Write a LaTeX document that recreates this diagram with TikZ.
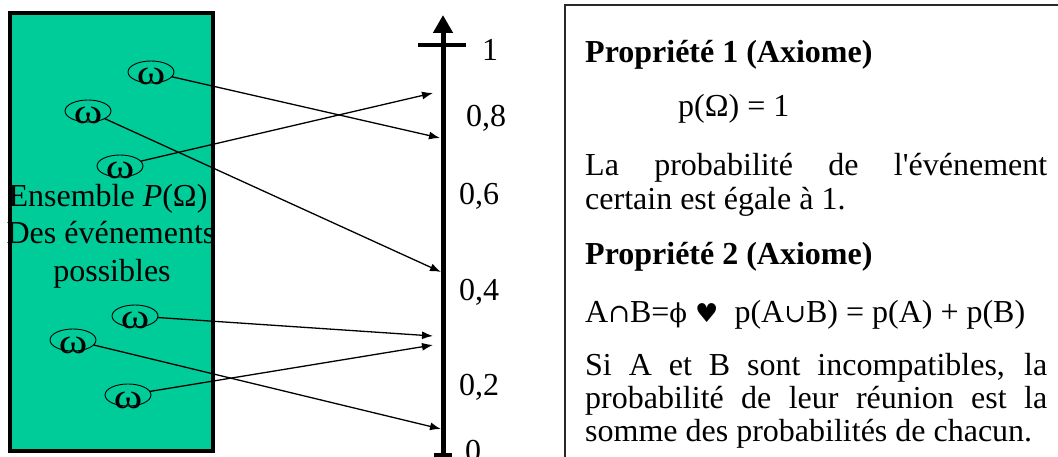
\documentclass[tikz,border=0pt]{standalone}
\usepackage{fontspec}
\setmainfont{Liberation Serif}
\newfontfamily\plainser{Liberation Serif}
\newfontfamily\djsans{DejaVu Sans}
\newfontfamily\djserif{DejaVu Serif}
\usetikzlibrary{shapes.geometric,arrows.meta}
\definecolor{boxgreen}{RGB}{0,204,153}
\definecolor{frame}{RGB}{40,40,40}
\begin{document}
\begin{tikzpicture}[x=1pt,y=-1pt,
  font=\fontsize{32}{38}\selectfont,
  setbox/.style={draw, fill=boxgreen, line width=4pt, minimum width=203pt, minimum height=438pt, inner sep=0pt, outer sep=0pt},
  omega/.style={ellipse, draw, line width=0.9pt, minimum width=46pt, minimum height=22pt, inner sep=0pt, outer sep=0pt},
  conn/.style={line width=1.3pt, -{Latex[length=11pt,width=8pt]}},
  txt/.style={anchor=base west, inner sep=0pt},
  ctxt/.style={anchor=base, inner sep=0pt},
  tick/.style={line width=4pt}
]
\useasboundingbox (0,0) rectangle (1058,457);
\clip (0,0) rectangle (1058,457);

% set box
\node[setbox] (set) at (111.5,232) {};
\node[ctxt] (l1) at (108,207) {Ensemble \textit{P}(Ω)};
\node[ctxt] (l2) at (111,244) {Des événements};
\node[ctxt] (l3) at (112,282) {possibles};

% omegas
\newcommand{\om}{\smash{\raisebox{-13pt}{\scalebox{1.35}[1.1]{ω}}}}
\node[omega] (w1) at (151,72) {\om};
\node[omega] (w2) at (88,111) {\om};
\node[omega] (w3) at (120,166) {\om};
\node[omega] (w4) at (135,316) {\om};
\node[omega] (w5) at (73,340) {\om};
\node[omega] (w6) at (128,395) {\om};

% axis
\coordinate (abot) at (443,470);
\coordinate (atop) at (443,15);
\draw[line width=5pt, -{Triangle[length=18pt,width=19pt]}] (abot) -- (atop);
\coordinate (tk1a) at (418,45);
\coordinate (tk1b) at (466,45);
\draw[tick] (tk1a) -- (tk1b);
\coordinate (tk0a) at (434,455);
\coordinate (tk0b) at (452,455);
\draw[tick] (tk0a) -- (tk0b);

\node[txt] (v1) at (482,61) {1};
\node[txt] (v08) at (466,127) {0,8};
\node[txt] (v06) at (459,205) {0,6};
\node[txt] (v04) at (459,300) {0,4};
\node[txt] (v02) at (459,395) {0,2};
\node[txt] (v0) at (465,461) {0};

% targets
\coordinate (t1) at (433,93);
\coordinate (t2) at (440,138);
\coordinate (t3) at (441,272);
\coordinate (t4) at (433,336);
\coordinate (t5) at (433,345);
\coordinate (t6) at (441,429);

\draw[conn] (w1) -- (t2);
\draw[conn] (w2) -- (t3);
\draw[conn] (w3) -- (t1);
\draw[conn] (w4) -- (t4);
\draw[conn] (w5) -- (t6);
\draw[conn] (w6) -- (t5);

% right frame
\coordinate (fr1) at (1070,5);
\coordinate (fr2) at (565,5);
\coordinate (fr3) at (565,470);
\draw[frame, line width=1.8pt] (fr1) -- (fr2) -- (fr3);

\node[txt] (p1) at (585,63) {\textbf{Propriété 1 (Axiome)}};
\node[txt] (p1f) at (678,117) {p(Ω) = 1};
\node[txt] (p1a) at (585,176) {\makebox[462pt][s]{La probabilité de l{\plainser '}événement}};
\node[txt] (p1b) at (585,210) {certain est égale à 1.};
\node[txt] (p2) at (585,265) {\textbf{Propriété 2 (Axiome)}};
\node[txt] (p2f) at (585,322) {A{\djserif\fontsize{26}{30}\selectfont ∩}B={\djserif\fontsize{26}{30}\selectfont ϕ} {\djsans\fontsize{26}{28}\selectfont ♥}\ \ p(A{\djserif\fontsize{26}{30}\selectfont ∪}B) = p(A) + p(B)};
\node[txt] (p2a) at (585,375) {\makebox[462pt][s]{Si A et B sont incompatibles, la}};
\node[txt] (p2b) at (585,408) {\makebox[462pt][s]{probabilité de leur réunion est la}};
\node[txt] (p2c) at (585,441) {somme des probabilités de chacun.};
\end{tikzpicture}
\end{document}
